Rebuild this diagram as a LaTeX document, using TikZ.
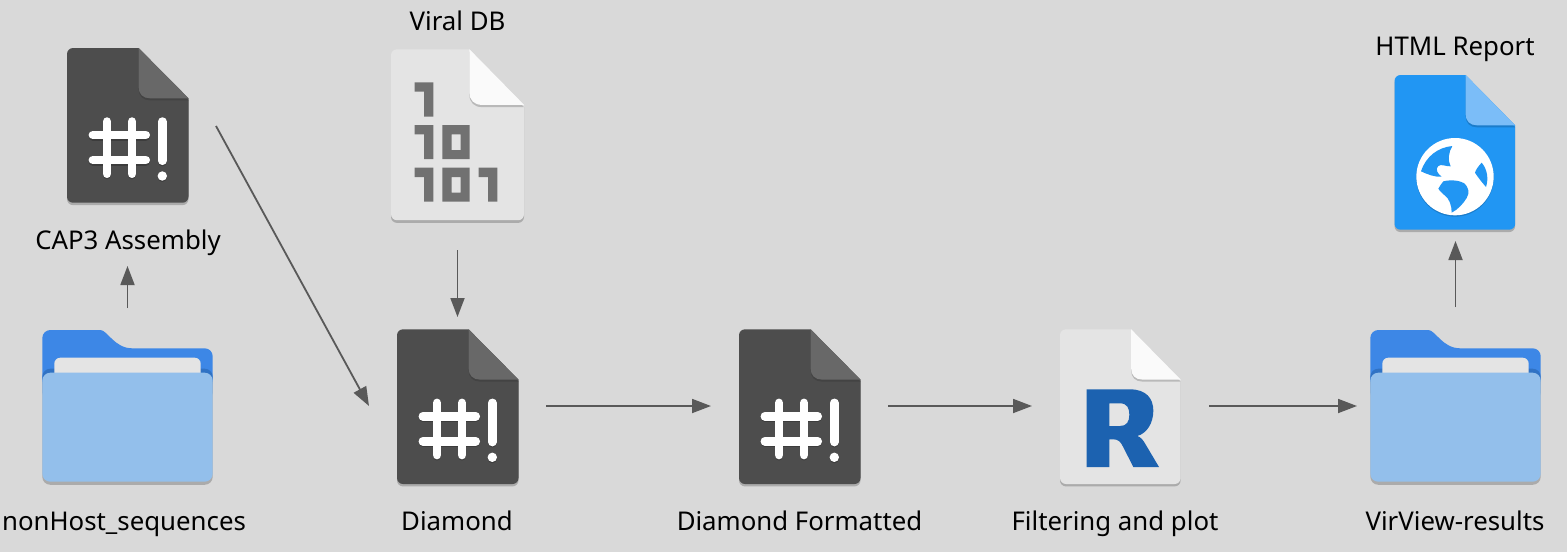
\documentclass[tikz,border=0pt]{standalone}
\usepackage{fontspec}
\setmainfont{Noto Sans}
\usetikzlibrary{arrows.meta}
\definecolor{bgc}{HTML}{D9D9D9}
\definecolor{arrowc}{HTML}{595959}
\definecolor{darkbody}{HTML}{4D4D4D}
\definecolor{darkfold}{HTML}{686868}
\definecolor{darkfoldsh}{HTML}{434343}
\definecolor{hashsh}{HTML}{3C3C3C}
\definecolor{lightbody}{HTML}{E4E4E4}
\definecolor{lightfold}{HTML}{FAFAFA}
\definecolor{lightfoldsh}{HTML}{B9B9B9}
\definecolor{bluebody}{HTML}{2196F3}
\definecolor{bluefold}{HTML}{7BBDF8}
\definecolor{bluefoldsh}{HTML}{1A7CCB}
\definecolor{edgesh}{HTML}{ABABAB}
\definecolor{bitsc}{HTML}{717171}
\definecolor{rblue}{HTML}{1C62B0}
\definecolor{folderback}{HTML}{3D87E6}
\definecolor{folderband}{HTML}{3072C4}
\definecolor{folderfront}{HTML}{93BFEB}
\definecolor{paperc}{HTML}{E4E4E4}
\tikzset{
  iconbox/.style={rectangle,inner sep=0pt,outer sep=0pt,minimum width=#1},
  iconbox/.default=177pt,
  caption/.style={anchor=base,inner sep=0pt,font=\fontsize{25.8}{30}\selectfont,text=black},
  conn/.style={draw=arrowc,line width=1.8pt,-{Triangle[length=19pt,width=14pt]}},
  hashbar/.style={line width=8.7pt,line cap=round,draw=#1},
  hashbar/.default=white
}
\newcommand{\FileShape}{(71.6,0) -- (121.5,50.3) [rounded corners=6pt] -- (121.5,154.7) -- (0,154.7) -- (0,0) [sharp corners] -- cycle}
\newcommand{\FoldShape}{(71.6,0) -- (121.5,50.3) -- (83,50.3) .. controls (76,50.3) and (71.6,46) .. (71.6,39) -- cycle}
% x, y, xscale, yscale, body, fold, fold shadow
\newcommand{\FileIcon}[7]{%
  \begin{scope}[shift={(#1,#2)},xscale=#3,yscale=#4]
    \fill[edgesh,yshift=-2.4pt] \FileShape;
    \fill[#5] \FileShape;
    \fill[#7,yshift=-2pt] \FoldShape;
    \fill[#6] \FoldShape;
  \end{scope}}
\newcommand{\HashMarks}[1]{%
    \draw[hashbar=#1] (40,73.6) -- (40,125.7);
    \draw[hashbar=#1] (65,73.6) -- (65,125.7);
    \draw[hashbar=#1] (25.9,87) -- (78.7,87);
    \draw[hashbar=#1] (25.9,112) -- (78.7,112);
    \draw[hashbar=#1] (95.3,73.6) -- (95.3,112.7);
    \fill[#1] (95.3,128) circle (4.7);}
\newcommand{\ScriptIcon}[2]{%
  \FileIcon{#1}{#2}{1}{1}{darkbody}{darkfold}{darkfoldsh}
  \begin{scope}[shift={(#1,#2)},yshift=-1.2pt]
    \HashMarks{hashsh}
  \end{scope}
  \begin{scope}[shift={(#1,#2)}]
    \HashMarks{white}
  \end{scope}}
\newcommand{\FolderIcon}[2]{%
  \begin{scope}[shift={(#1,#2)}]
    \fill[folderback,rounded corners=8pt] (0,60) -- (0,0) -- (50,0) [sharp corners] .. controls (65,0) and (72,18.3) .. (90,18.3) [rounded corners=8pt] -- (170.4,18.3) -- (170.4,60) -- cycle;
    \fill[folderband,rounded corners=8pt] (0,70) rectangle (170.4,38.7);
    \fill[paperc,rounded corners=6pt] (12,60) rectangle (158.4,27.7);
    \fill[edgesh,rounded corners=8pt] (0,154.8) rectangle (170.4,45);
    \fill[folderfront,rounded corners=8pt] (0,151.7) rectangle (170.4,42.7);
  \end{scope}}
\begin{document}
\begin{tikzpicture}[x=1pt,y=-1pt]
  \fill[bgc] (0,0) rectangle (1567,552);
  \useasboundingbox (0,0) rectangle (1567,552);

  % icons
  \ScriptIcon{67}{48}
  \FileIcon{391}{49.3}{1.095}{1.105}{lightbody}{lightfold}{lightfoldsh}
  \begin{scope}[shift={(370,30)},scale=1/3,bitsc]
    \fill (134,157) -- (190,157) -- (190,260) -- (162,260) -- (162,185) -- (134,185) -- cycle;
    \fill (134,285) -- (190,285) -- (190,387) -- (162,387) -- (162,313) -- (134,313) -- cycle;
    \fill[even odd rule] (217,285) rectangle (299,387) (245,313) rectangle (272,360);
    \fill (134,413) -- (190,413) -- (190,515) -- (162,515) -- (162,441) -- (134,441) -- cycle;
    \fill[even odd rule] (217,413) rectangle (299,515) (245,441) rectangle (272,488);
    \fill (326,413) -- (382,413) -- (382,515) -- (354,515) -- (354,441) -- (326,441) -- cycle;
  \end{scope}
  \ScriptIcon{397}{329.3}
  \ScriptIcon{739}{329.3}
  \FileIcon{1060}{329.3}{0.993}{1}{lightbody}{lightfold}{lightfoldsh}
  \begin{scope}[shift={(1040,320)},scale=1/3]
    \fill[rblue,even odd rule]
      (140,208) -- (270,208) .. controls (318,208) and (340,235) .. (340,272)
      .. controls (340,310) and (320,340) .. (292,348)
      .. controls (304,352) and (310,362) .. (316,372) -- (357,441) -- (280,441)
      -- (250,382) .. controls (242,365) and (235,358) .. (220,358) -- (208,358) -- (208,441) -- (140,441) -- cycle
      (208,250) -- (240,250) .. controls (262,250) and (268,265) .. (268,284)
      .. controls (268,305) and (260,318) .. (240,318) -- (208,318) -- cycle;
  \end{scope}
  \FolderIcon{42.3}{330}
  \FolderIcon{1370.3}{330}
  \FileIcon{1394.5}{75}{0.993}{1}{bluebody}{bluefold}{bluefoldsh}
  \begin{scope}[shift={(1410,132)},scale=1/3]
    \fill[bluefoldsh] (135,138) circle (116);
    \fill[white] (135,134) circle (116);
    \fill[bluebody] (127,42) .. controls (85,46) and (48,72) .. (33,118)
      .. controls (55,128) and (75,136) .. (95,134)
      .. controls (82,125) and (76,112) .. (84,103)
      .. controls (92,94) and (108,104) .. (122,103)
      .. controls (112,85) and (116,60) .. (127,42) -- cycle;
    \fill[bluebody] (100,148) .. controls (125,142) and (150,146) .. (163,154)
      .. controls (175,165) and (180,182) .. (170,198)
      .. controls (160,214) and (145,232) .. (125,242)
      .. controls (125,220) and (118,200) .. (104,190)
      .. controls (95,183) and (88,175) .. (85,170)
      .. controls (90,160) and (95,155) .. (100,148) -- cycle;
    \fill[bluebody] (215,92) .. controls (205,103) and (198,112) .. (195,122)
      .. controls (203,135) and (215,150) .. (228,165)
      .. controls (236,140) and (232,112) .. (215,92) -- cycle;
  \end{scope}

  % icon nodes (connector anchors)
  \node[iconbox,minimum height=280pt] (cap3) at (127.5,126) {};
  \node[iconbox,minimum height=240pt] (viral) at (457.5,130) {};
  \node[iconbox=197pt,minimum height=198pt] (nonhost) at (127.5,407) {};
  \node[iconbox,minimum height=178pt] (diamond) at (457.5,406) {};
  \node[iconbox,minimum height=178pt] (formatted) at (799.5,406) {};
  \node[iconbox,minimum height=178pt] (filtering) at (1120.5,406) {};
  \node[iconbox=197pt,minimum height=198pt] (results) at (1455.5,406) {};
  \node[iconbox,minimum height=176pt] (html) at (1455.5,153) {};

  % captions
  \node[caption] (lnonhost) at (124,530) {nonHost\_sequences};
  \node[caption] (ldiamond) at (457,530) {Diamond};
  \node[caption] (lformatted) at (799.5,530) {Diamond Formatted};
  \node[caption] (lfiltering) at (1115,530) {Filtering and plot};
  \node[caption] (lresults) at (1455,530) {VirView-results};
  \node[caption] (lviral) at (457.5,30) {Viral DB};
  \node[caption] (lcap) at (128,249) {CAP3 Assembly};
  \node[caption] (lhtml) at (1455,55) {HTML Report};

  % connectors
  \draw[conn] (nonhost.north) -- (cap3.south);
  \draw[conn] (cap3.east) -- (diamond.west);
  \draw[conn] (viral.south) -- (diamond.north);
  \draw[conn] (diamond.east) -- (formatted.west);
  \draw[conn] (formatted.east) -- (filtering.west);
  \draw[conn] (filtering.east) -- (results.west);
  \draw[conn] (results.north) -- (html.south);
\end{tikzpicture}
\end{document}
